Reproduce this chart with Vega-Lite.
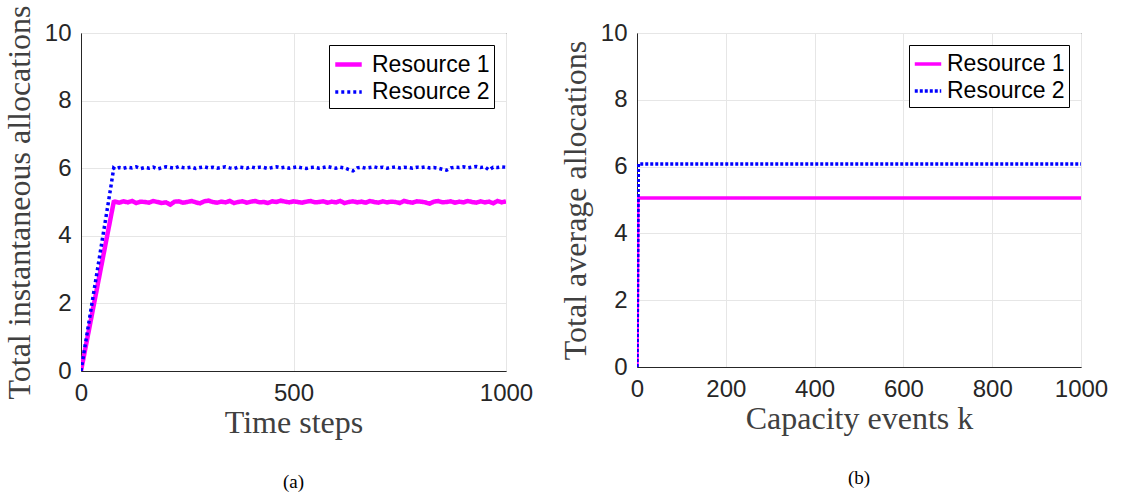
{
  "$schema": "https://vega.github.io/schema/vega-lite/v6.json",
  "background": "white",
  "padding": {"left": 2, "top": 4, "right": 5, "bottom": 5},
  "spacing": 24,
  "config": {
    "view": {"stroke": "#262626", "strokeWidth": 1},
    "axis": {
      "labelFont": "Liberation Sans",
      "labelFontSize": 24,
      "labelColor": "#262626",
      "labelFlush": false,
      "labelOverlap": false,
      "titleFont": "Liberation Serif",
      "titleFontSize": 32,
      "titleFontWeight": "normal",
      "titleColor": "#404040",
      "gridColor": "#e6e6e6",
      "domainColor": "#262626",
      "ticks": false,
      "labelPadding": 10,
      "format": "d"
    },
    "axisX": {"titlePadding": 2},
    "axisY": {"titlePadding": 8},
    "legend": {
      "orient": "top-right",
      "offset": 12,
      "strokeColor": "black",
      "fillColor": "white",
      "padding": 4,
      "labelFont": "Liberation Sans",
      "labelFontSize": 23,
      "labelColor": "black",
      "symbolType": "stroke",
      "symbolSize": 700,
      "rowPadding": 0,
      "labelOffset": 8
    },
    "title": {"font": "Liberation Serif", "fontSize": 19, "fontWeight": "normal", "color": "black", "orient": "bottom", "offset": 35}
  },
  "datasets": {
    "inst": [
      {"t": 0, "series": "Resource 1", "v": 0},
      {"t": 20, "series": "Resource 1", "v": 1.3},
      {"t": 40, "series": "Resource 1", "v": 2.6},
      {"t": 60, "series": "Resource 1", "v": 3.9},
      {"t": 77, "series": "Resource 1", "v": 5.0},
      {"t": 80, "series": "Resource 1", "v": 5.01},
      {"t": 90, "series": "Resource 1", "v": 4.98},
      {"t": 100, "series": "Resource 1", "v": 5.02},
      {"t": 110, "series": "Resource 1", "v": 4.99},
      {"t": 120, "series": "Resource 1", "v": 5.03},
      {"t": 130, "series": "Resource 1", "v": 4.97},
      {"t": 140, "series": "Resource 1", "v": 5.01},
      {"t": 150, "series": "Resource 1", "v": 5.0},
      {"t": 160, "series": "Resource 1", "v": 4.98},
      {"t": 170, "series": "Resource 1", "v": 5.03},
      {"t": 180, "series": "Resource 1", "v": 5.0},
      {"t": 190, "series": "Resource 1", "v": 4.97},
      {"t": 200, "series": "Resource 1", "v": 4.99},
      {"t": 210, "series": "Resource 1", "v": 4.92},
      {"t": 220, "series": "Resource 1", "v": 5.01},
      {"t": 230, "series": "Resource 1", "v": 5.02},
      {"t": 240, "series": "Resource 1", "v": 4.98},
      {"t": 250, "series": "Resource 1", "v": 5.0},
      {"t": 260, "series": "Resource 1", "v": 5.03},
      {"t": 270, "series": "Resource 1", "v": 4.99},
      {"t": 280, "series": "Resource 1", "v": 4.96},
      {"t": 290, "series": "Resource 1", "v": 5.02},
      {"t": 300, "series": "Resource 1", "v": 5.04},
      {"t": 310, "series": "Resource 1", "v": 5.0},
      {"t": 320, "series": "Resource 1", "v": 4.98},
      {"t": 330, "series": "Resource 1", "v": 5.01},
      {"t": 340, "series": "Resource 1", "v": 4.99},
      {"t": 350, "series": "Resource 1", "v": 5.03},
      {"t": 360, "series": "Resource 1", "v": 4.97},
      {"t": 370, "series": "Resource 1", "v": 5.0},
      {"t": 380, "series": "Resource 1", "v": 5.02},
      {"t": 390, "series": "Resource 1", "v": 4.98},
      {"t": 400, "series": "Resource 1", "v": 5.01},
      {"t": 410, "series": "Resource 1", "v": 5.03},
      {"t": 420, "series": "Resource 1", "v": 4.99},
      {"t": 430, "series": "Resource 1", "v": 5.0},
      {"t": 440, "series": "Resource 1", "v": 4.97},
      {"t": 450, "series": "Resource 1", "v": 5.02},
      {"t": 460, "series": "Resource 1", "v": 5.0},
      {"t": 470, "series": "Resource 1", "v": 5.04},
      {"t": 480, "series": "Resource 1", "v": 5.01},
      {"t": 490, "series": "Resource 1", "v": 4.99},
      {"t": 500, "series": "Resource 1", "v": 5.02},
      {"t": 510, "series": "Resource 1", "v": 5.0},
      {"t": 520, "series": "Resource 1", "v": 4.98},
      {"t": 530, "series": "Resource 1", "v": 5.01},
      {"t": 540, "series": "Resource 1", "v": 5.03},
      {"t": 550, "series": "Resource 1", "v": 4.99},
      {"t": 560, "series": "Resource 1", "v": 5.0},
      {"t": 570, "series": "Resource 1", "v": 5.02},
      {"t": 580, "series": "Resource 1", "v": 4.98},
      {"t": 590, "series": "Resource 1", "v": 5.01},
      {"t": 600, "series": "Resource 1", "v": 4.99},
      {"t": 610, "series": "Resource 1", "v": 5.03},
      {"t": 620, "series": "Resource 1", "v": 4.97},
      {"t": 630, "series": "Resource 1", "v": 5.0},
      {"t": 640, "series": "Resource 1", "v": 5.02},
      {"t": 650, "series": "Resource 1", "v": 4.99},
      {"t": 660, "series": "Resource 1", "v": 5.01},
      {"t": 670, "series": "Resource 1", "v": 4.98},
      {"t": 680, "series": "Resource 1", "v": 5.03},
      {"t": 690, "series": "Resource 1", "v": 5.0},
      {"t": 700, "series": "Resource 1", "v": 4.98},
      {"t": 710, "series": "Resource 1", "v": 5.02},
      {"t": 720, "series": "Resource 1", "v": 4.99},
      {"t": 730, "series": "Resource 1", "v": 5.01},
      {"t": 740, "series": "Resource 1", "v": 5.0},
      {"t": 750, "series": "Resource 1", "v": 4.97},
      {"t": 760, "series": "Resource 1", "v": 5.03},
      {"t": 770, "series": "Resource 1", "v": 5.0},
      {"t": 780, "series": "Resource 1", "v": 4.98},
      {"t": 790, "series": "Resource 1", "v": 5.02},
      {"t": 800, "series": "Resource 1", "v": 5.01},
      {"t": 810, "series": "Resource 1", "v": 4.99},
      {"t": 820, "series": "Resource 1", "v": 4.95},
      {"t": 830, "series": "Resource 1", "v": 5.01},
      {"t": 840, "series": "Resource 1", "v": 5.03},
      {"t": 850, "series": "Resource 1", "v": 4.99},
      {"t": 860, "series": "Resource 1", "v": 5.0},
      {"t": 870, "series": "Resource 1", "v": 5.02},
      {"t": 880, "series": "Resource 1", "v": 4.98},
      {"t": 890, "series": "Resource 1", "v": 5.01},
      {"t": 900, "series": "Resource 1", "v": 4.99},
      {"t": 910, "series": "Resource 1", "v": 5.03},
      {"t": 920, "series": "Resource 1", "v": 5.0},
      {"t": 930, "series": "Resource 1", "v": 4.98},
      {"t": 940, "series": "Resource 1", "v": 5.02},
      {"t": 950, "series": "Resource 1", "v": 4.99},
      {"t": 960, "series": "Resource 1", "v": 5.01},
      {"t": 970, "series": "Resource 1", "v": 4.96},
      {"t": 980, "series": "Resource 1", "v": 5.03},
      {"t": 990, "series": "Resource 1", "v": 4.99},
      {"t": 1000, "series": "Resource 1", "v": 5.02},
      {"t": 0, "series": "Resource 2", "v": 0},
      {"t": 10, "series": "Resource 2", "v": 0.78},
      {"t": 20, "series": "Resource 2", "v": 1.55},
      {"t": 30, "series": "Resource 2", "v": 2.33},
      {"t": 40, "series": "Resource 2", "v": 3.1},
      {"t": 50, "series": "Resource 2", "v": 3.88},
      {"t": 60, "series": "Resource 2", "v": 4.65},
      {"t": 70, "series": "Resource 2", "v": 5.43},
      {"t": 77, "series": "Resource 2", "v": 6.0},
      {"t": 80, "series": "Resource 2", "v": 5.97},
      {"t": 90, "series": "Resource 2", "v": 6.02},
      {"t": 100, "series": "Resource 2", "v": 6.0},
      {"t": 110, "series": "Resource 2", "v": 6.03},
      {"t": 120, "series": "Resource 2", "v": 6.01},
      {"t": 130, "series": "Resource 2", "v": 6.04},
      {"t": 140, "series": "Resource 2", "v": 5.99},
      {"t": 150, "series": "Resource 2", "v": 6.02},
      {"t": 160, "series": "Resource 2", "v": 6.0},
      {"t": 170, "series": "Resource 2", "v": 6.03},
      {"t": 180, "series": "Resource 2", "v": 5.98},
      {"t": 190, "series": "Resource 2", "v": 6.01},
      {"t": 200, "series": "Resource 2", "v": 6.04},
      {"t": 210, "series": "Resource 2", "v": 6.02},
      {"t": 220, "series": "Resource 2", "v": 6.0},
      {"t": 230, "series": "Resource 2", "v": 6.05},
      {"t": 240, "series": "Resource 2", "v": 6.02},
      {"t": 250, "series": "Resource 2", "v": 6.01},
      {"t": 260, "series": "Resource 2", "v": 6.03},
      {"t": 270, "series": "Resource 2", "v": 5.99},
      {"t": 280, "series": "Resource 2", "v": 6.02},
      {"t": 290, "series": "Resource 2", "v": 6.04},
      {"t": 300, "series": "Resource 2", "v": 6.01},
      {"t": 310, "series": "Resource 2", "v": 6.03},
      {"t": 320, "series": "Resource 2", "v": 6.0},
      {"t": 330, "series": "Resource 2", "v": 6.02},
      {"t": 340, "series": "Resource 2", "v": 6.04},
      {"t": 350, "series": "Resource 2", "v": 6.01},
      {"t": 360, "series": "Resource 2", "v": 5.99},
      {"t": 370, "series": "Resource 2", "v": 6.03},
      {"t": 380, "series": "Resource 2", "v": 6.02},
      {"t": 390, "series": "Resource 2", "v": 6.0},
      {"t": 400, "series": "Resource 2", "v": 6.04},
      {"t": 410, "series": "Resource 2", "v": 6.01},
      {"t": 420, "series": "Resource 2", "v": 6.03},
      {"t": 430, "series": "Resource 2", "v": 6.02},
      {"t": 440, "series": "Resource 2", "v": 5.99},
      {"t": 450, "series": "Resource 2", "v": 6.02},
      {"t": 460, "series": "Resource 2", "v": 6.04},
      {"t": 470, "series": "Resource 2", "v": 6.01},
      {"t": 480, "series": "Resource 2", "v": 6.03},
      {"t": 490, "series": "Resource 2", "v": 6.0},
      {"t": 500, "series": "Resource 2", "v": 6.02},
      {"t": 510, "series": "Resource 2", "v": 6.04},
      {"t": 520, "series": "Resource 2", "v": 6.01},
      {"t": 530, "series": "Resource 2", "v": 5.99},
      {"t": 540, "series": "Resource 2", "v": 6.02},
      {"t": 550, "series": "Resource 2", "v": 6.03},
      {"t": 560, "series": "Resource 2", "v": 6.0},
      {"t": 570, "series": "Resource 2", "v": 6.02},
      {"t": 580, "series": "Resource 2", "v": 6.05},
      {"t": 590, "series": "Resource 2", "v": 6.02},
      {"t": 600, "series": "Resource 2", "v": 6.0},
      {"t": 610, "series": "Resource 2", "v": 6.03},
      {"t": 620, "series": "Resource 2", "v": 6.01},
      {"t": 630, "series": "Resource 2", "v": 5.96},
      {"t": 640, "series": "Resource 2", "v": 5.92},
      {"t": 650, "series": "Resource 2", "v": 6.01},
      {"t": 660, "series": "Resource 2", "v": 6.03},
      {"t": 670, "series": "Resource 2", "v": 6.0},
      {"t": 680, "series": "Resource 2", "v": 6.02},
      {"t": 690, "series": "Resource 2", "v": 6.04},
      {"t": 700, "series": "Resource 2", "v": 6.01},
      {"t": 710, "series": "Resource 2", "v": 6.03},
      {"t": 720, "series": "Resource 2", "v": 6.0},
      {"t": 730, "series": "Resource 2", "v": 6.02},
      {"t": 740, "series": "Resource 2", "v": 6.04},
      {"t": 750, "series": "Resource 2", "v": 6.01},
      {"t": 760, "series": "Resource 2", "v": 6.03},
      {"t": 770, "series": "Resource 2", "v": 6.02},
      {"t": 780, "series": "Resource 2", "v": 6.0},
      {"t": 790, "series": "Resource 2", "v": 6.03},
      {"t": 800, "series": "Resource 2", "v": 6.02},
      {"t": 810, "series": "Resource 2", "v": 6.04},
      {"t": 820, "series": "Resource 2", "v": 6.01},
      {"t": 830, "series": "Resource 2", "v": 6.02},
      {"t": 840, "series": "Resource 2", "v": 6.0},
      {"t": 850, "series": "Resource 2", "v": 5.97},
      {"t": 860, "series": "Resource 2", "v": 5.94},
      {"t": 870, "series": "Resource 2", "v": 6.01},
      {"t": 880, "series": "Resource 2", "v": 6.03},
      {"t": 890, "series": "Resource 2", "v": 6.02},
      {"t": 900, "series": "Resource 2", "v": 6.04},
      {"t": 910, "series": "Resource 2", "v": 6.01},
      {"t": 920, "series": "Resource 2", "v": 6.03},
      {"t": 930, "series": "Resource 2", "v": 6.05},
      {"t": 940, "series": "Resource 2", "v": 6.02},
      {"t": 950, "series": "Resource 2", "v": 6.04},
      {"t": 960, "series": "Resource 2", "v": 5.95},
      {"t": 970, "series": "Resource 2", "v": 6.03},
      {"t": 980, "series": "Resource 2", "v": 6.02},
      {"t": 990, "series": "Resource 2", "v": 6.04},
      {"t": 1000, "series": "Resource 2", "v": 6.03}
    ],
    "avg": [
      {"k": 0, "series": "Resource 1", "v": 0},
      {"k": 2, "series": "Resource 1", "v": 5.06},
      {"k": 1000, "series": "Resource 1", "v": 5.06},
      {"k": 0, "series": "Resource 2", "v": 0},
      {"k": 3, "series": "Resource 2", "v": 6.08},
      {"k": 1000, "series": "Resource 2", "v": 6.08}
    ]
  },
  "hconcat": [
    {
      "width": 425,
      "height": 338,
      "title": {"text": "(a)"},
      "data": {"name": "inst"},
      "mark": {"type": "line", "clip": true},
      "encoding": {
        "x": {"field": "t", "type": "quantitative", "title": "Time steps",
              "scale": {"domain": [0, 1000], "nice": false},
              "axis": {"values": [0, 500, 1000]}},
        "y": {"field": "v", "type": "quantitative", "title": "Total instantaneous allocations",
              "scale": {"domain": [0, 10], "nice": false},
              "axis": {"values": [0, 2, 4, 6, 8, 10]}},
        "color": {"field": "series", "type": "nominal", "title": null,
                  "scale": {"domain": ["Resource 1", "Resource 2"], "range": ["#ff00ff", "#0000ff"]}},
        "strokeDash": {"field": "series", "type": "nominal", "title": null,
                  "scale": {"domain": ["Resource 1", "Resource 2"], "range": [[1, 0], [3, 3]]}},
        "strokeWidth": {"field": "series", "type": "nominal", "title": null,
                  "scale": {"domain": ["Resource 1", "Resource 2"], "range": [4.5, 3.5]}}
      }
    },
    {
      "width": 444,
      "height": 334,
      "title": {"text": "(b)"},
      "data": {"name": "avg"},
      "mark": {"type": "line", "clip": true},
      "encoding": {
        "x": {"field": "k", "type": "quantitative", "title": "Capacity events k",
              "scale": {"domain": [0, 1000], "nice": false},
              "axis": {"values": [0, 200, 400, 600, 800, 1000]}},
        "y": {"field": "v", "type": "quantitative", "title": "Total average allocations",
              "scale": {"domain": [0, 10], "nice": false},
              "axis": {"values": [0, 2, 4, 6, 8, 10]}},
        "color": {"field": "series", "type": "nominal", "title": null,
                  "scale": {"domain": ["Resource 1", "Resource 2"], "range": ["#ff00ff", "#0000ff"]},
                  "legend": {"labelOffset": 4}},
        "strokeDash": {"field": "series", "type": "nominal", "title": null,
                  "scale": {"domain": ["Resource 1", "Resource 2"], "range": [[1, 0], [3, 2]]},
                  "legend": {"labelOffset": 4}},
        "strokeWidth": {"field": "series", "type": "nominal", "title": null,
                  "scale": {"domain": ["Resource 1", "Resource 2"], "range": [3.5, 3.5]},
                  "legend": {"labelOffset": 4}}
      }
    }
  ],
  "resolve": {"scale": {"color": "independent", "strokeDash": "independent", "strokeWidth": "independent"}, "legend": {"color": "independent", "strokeDash": "independent", "strokeWidth": "independent"}}
}
